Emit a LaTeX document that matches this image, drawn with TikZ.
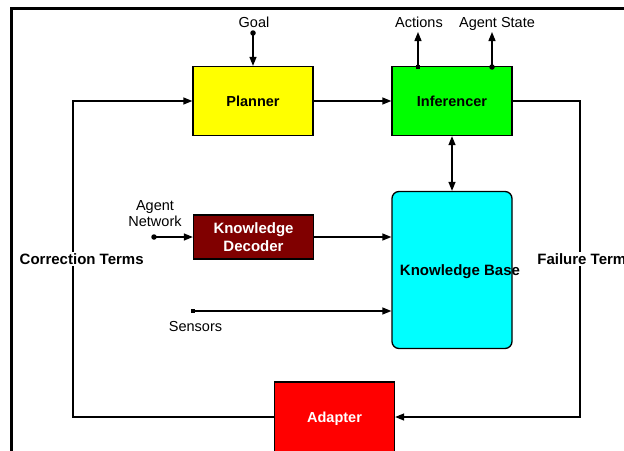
\documentclass[tikz,border=0pt]{standalone}
\usepackage{fontspec}
\setmainfont{Liberation Sans}
\usetikzlibrary{arrows.meta}
\definecolor{darkred}{RGB}{128,0,0}
\definecolor{kbcyan}{RGB}{0,255,255}
\definecolor{infgreen}{RGB}{0,255,0}
\definecolor{planyellow}{RGB}{255,255,0}
\definecolor{adred}{RGB}{255,0,0}
\begin{document}
\begin{tikzpicture}[x=1pt,y=-1pt,
  tip/.tip={Triangle[length=9pt,width=7pt]},
  box/.style={draw=black,line width=1.3pt,minimum width=120pt,inner sep=0pt,
    font=\fontsize{14.5}{17}\selectfont\bfseries,text height=10.4pt,text depth=0pt},
  conn/.style={line width=1.3pt,-tip},
  biconn/.style={line width=1.3pt,tip-tip},
  lbl/.style={font=\fontsize{14.5}{16.7}\selectfont,inner sep=0pt,
    text height=10.4pt,text depth=0pt},
  lbltwo/.style={font=\fontsize{14.5}{16.7}\selectfont,inner sep=0pt,align=center},
  bold/.style={font=\fontsize{15}{17}\selectfont\bfseries,inner sep=1.5pt,
    text height=10.8pt,text depth=0pt},
  term/.style={bold,fill=white},
  rdot/.style={circle,fill=black,inner sep=0pt,minimum size=5.5pt},
  sdot/.style={rectangle,fill=black,inner sep=0pt,minimum size=4.5pt}]

\useasboundingbox (0,0) rectangle (624,450);

% outer frame (runs past the page edges)
\draw[line width=2.7pt] (11.3,470) -- (11.3,8.7) -- (650,8.7);

% blocks
\node[box,fill=planyellow,minimum height=69pt] (planner) at (253,101) {Planner};
\node[box,fill=infgreen,minimum height=69pt] (inferencer) at (452,101) {Inferencer};
\node[box,fill=darkred,text=white,minimum height=44pt,align=center,
      font=\fontsize{15}{18}\selectfont\bfseries,text height=,text depth=]
      (decoder) at (253.5,237) {Knowledge\\Decoder};
\node[box,fill=kbcyan,minimum height=157pt,rounded corners=7pt] (kb) at (452,270) {};
\node[bold] (kblabel) at (460,270) {Knowledge Base};
\node[box,fill=adred,text=white,minimum height=70pt] (adapter) at (334.5,417) {Adapter};

% external inputs and outputs
\node[lbl] (goal) at (254,22) {Goal};
\node[rdot] (goaldot) at (253,33) {};
\draw[conn] (goaldot.center) -- (planner.north);

\node[lbl] (actions) at (419,22) {Actions};
\node[sdot] (actdot) at (418,67) {};
\coordinate (acttip) at (418,32);
\draw[conn] (actdot.center) -- (acttip);

\node[lbl] (agstate) at (497,22) {Agent State};
\node[rdot] (stdot) at (492,67) {};
\coordinate (sttip) at (492,32);
\draw[conn] (stdot.center) -- (sttip);

\node[lbltwo] (agentnet) at (155,213.5) {Agent\\Network};
\node[rdot] (netdot) at (154,237) {};
\draw[conn] (netdot.center) -- (netdot.center -| decoder.west);

\node[lbl] (sensors) at (195.5,326) {Sensors};
\node[sdot] (sensdot) at (193,311) {};
\draw[conn] (sensdot.center) -- (sensdot.center -| kb.west);

% internal flow
\draw[conn] (planner) -- (inferencer);
\draw[biconn] (inferencer.south) -- (kb.north);
\draw[conn] (decoder.east) -- (decoder.east -| kb.west);

% feedback loops
\coordinate (bl) at (73,417);
\coordinate (tl) at (73,101);
\draw[conn] (adapter.west) -- (bl) -- (tl) -- (planner.west);

\coordinate (tr) at (580,101);
\coordinate (br) at (580,417);
\draw[conn] (inferencer.east) -- (tr) -- (br) -- (adapter.east);

\node[term] (corr) at (81.7,259) {Correction Terms};
\node[term] (fail) at (586,259) {Failure Terms};
\end{tikzpicture}
\end{document}
